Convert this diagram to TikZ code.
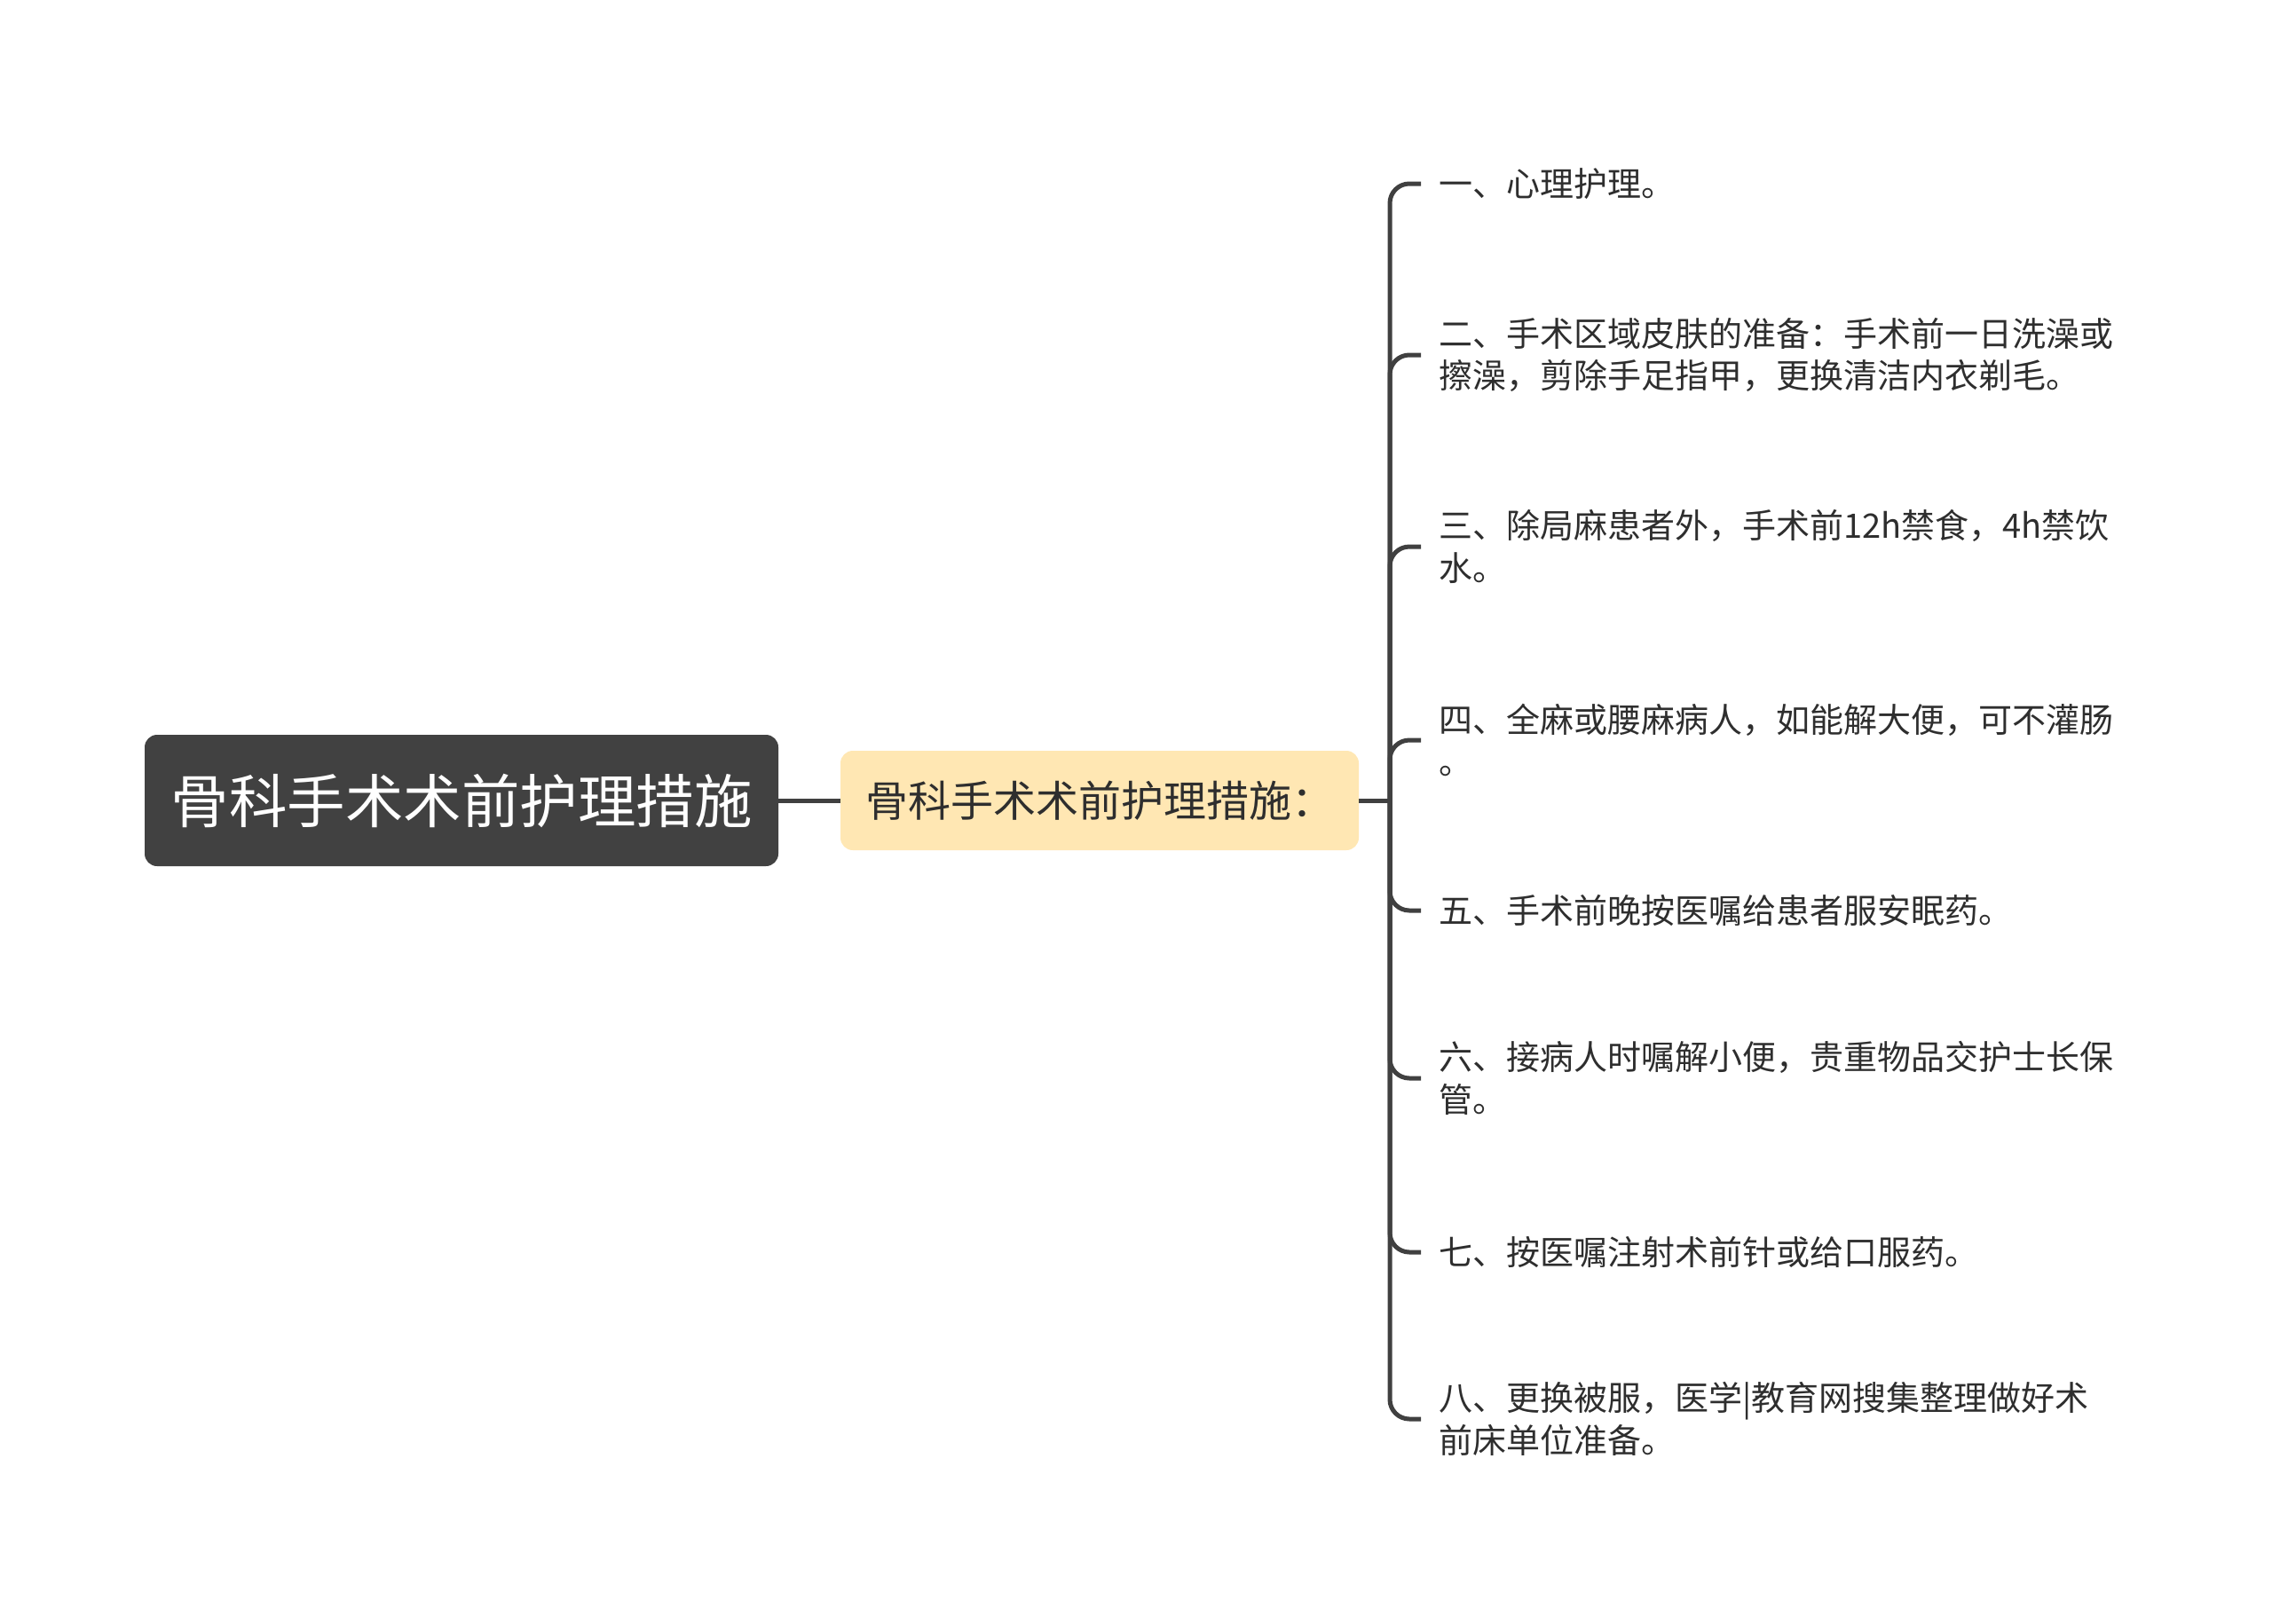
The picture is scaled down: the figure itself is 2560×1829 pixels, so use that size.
\documentclass[tikz,border=0pt]{standalone}
\usepackage{fontspec}
\setmainfont{Noto Sans CJK SC}
\definecolor{rootgray}{HTML}{414141}
\definecolor{subyellow}{HTML}{FFE7B3}
\definecolor{linegray}{HTML}{404040}
\definecolor{textgray}{HTML}{2E2E2E}
\begin{document}
\begin{tikzpicture}[x=1pt,y=-1pt]
\tikzset{
  rootbox/.style={fill=rootgray, rounded corners=14pt, text=white,
    font=\fontsize{65.5}{72}\selectfont, inner sep=0pt,
    minimum width=714pt, minimum height=148pt},
  subbox/.style={fill=subyellow, rounded corners=14pt, text=textgray,
    font=\fontsize{48}{56}\selectfont, inner sep=0pt,
    minimum width=584pt, minimum height=112pt},
  itemtext/.style={anchor=west, align=left, text=textgray,
    font=\fontsize{38}{47.5}\selectfont, inner sep=0pt},
  conn/.style={draw=linegray, line width=5pt},
  branch/.style={draw=linegray, line width=5pt, rounded corners=22pt},
}
\useasboundingbox[fill=white] (0,0) rectangle (2560,1829);

\node[rootbox] (root) at (520,902) {骨科手术术前护理措施};
\node[subbox] (sub) at (1239,902) {骨科手术术前护理措施：};
\coordinate (j) at (1566,902);

\node[itemtext] (i1) at (1621,207) {一、心理护理。};
\node[itemtext] (i2) at (1621,400) {二、手术区域皮肤的准备：手术前一日洗澡或\\擦澡，剪除手足指甲，更换清洁内衣剃毛。};
\node[itemtext] (i3) at (1621,616) {三、除局麻患者外，手术前12h禁食，4h禁饮\\水。};
\node[itemtext] (i4) at (1621,834) {四、全麻或腰麻病人，如能解大便，可不灌肠\\。};
\node[itemtext] (i5) at (1621,1026) {五、手术前晚按医嘱给患者服安眠药。};
\node[itemtext] (i6) at (1621,1215) {六、接病人时嘱解小便，贵重物品交护士长保\\管。};
\node[itemtext] (i7) at (1621,1411) {七、按医嘱注射术前针或给口服药。};
\node[itemtext] (i8) at (1621,1599) {八、更换被服，医学|教育网搜集整理做好术\\前床单位准备。};

\draw[conn] (root.east) -- (sub.west);
\draw[conn] (sub.east) -- (j);
\foreach \n in {i1,i2,i3,i4,i5,i6,i7,i8}{
  \draw[branch] (j) |- ([xshift=-20pt]\n.west);
}
\end{tikzpicture}
\end{document}
